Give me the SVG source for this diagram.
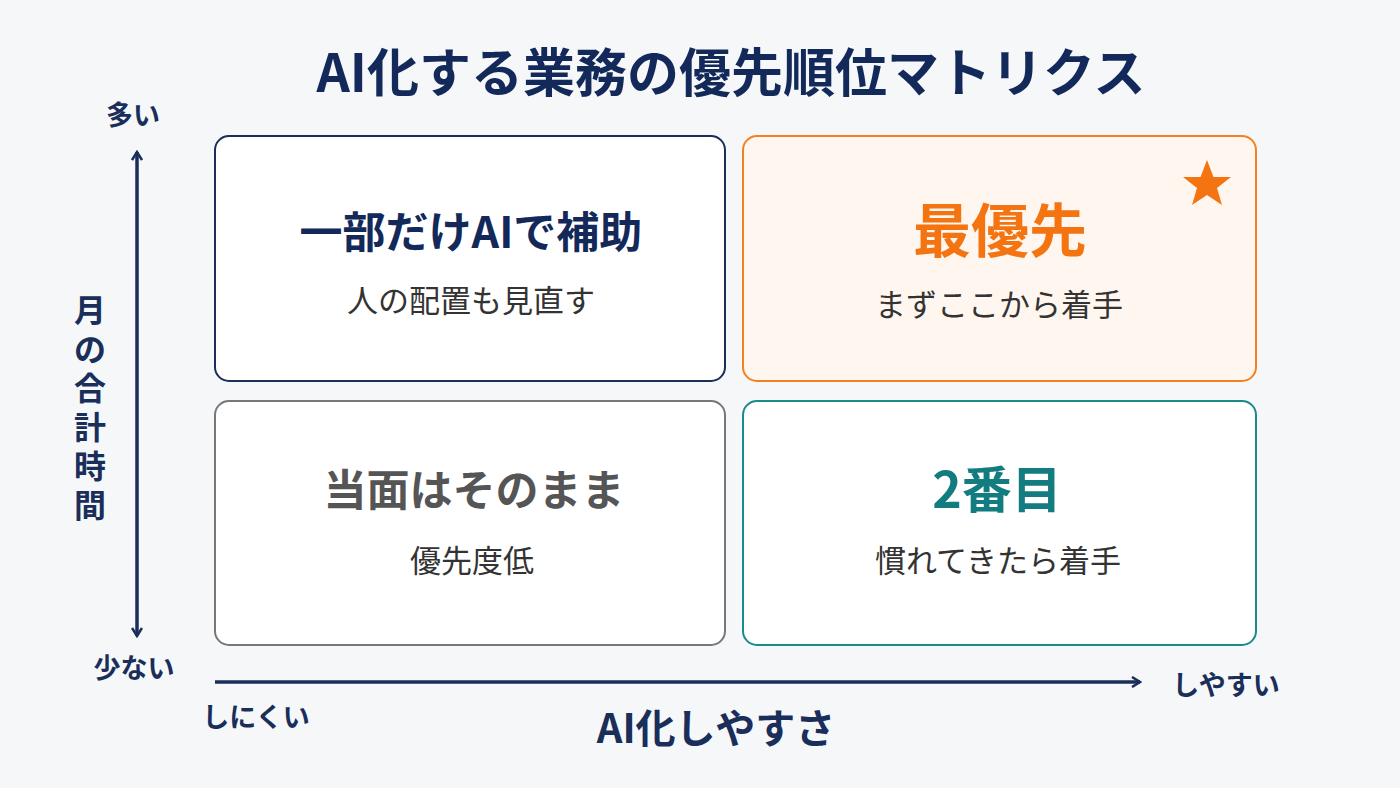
<svg xmlns="http://www.w3.org/2000/svg" width="1400" height="788" viewBox="0 0 1400 788">
<style>
text{font-family:"Noto Sans CJK JP","Noto Sans",sans-serif;text-anchor:middle}
.h{font-size:43px;font-weight:700}
.s{font-size:31px;fill:#333}
.ax{fill:#1a2e5a;font-weight:700}
.box{stroke-width:2}
</style>
<defs>
<marker id="a" viewBox="0 0 12 12" refX="10" refY="6" markerWidth="12" markerHeight="12" markerUnits="userSpaceOnUse" orient="auto-start-reverse"><path d="M2,1 L10,6 L2,11" fill="none" stroke="#1a2e5a" stroke-width="2.5"/></marker>
</defs>
<rect width="1400" height="788" fill="#f6f7f9"/>
<text x="731" y="92" font-size="52" font-weight="700" fill="#13295a">AI化する業務の優先順位マトリクス</text>
<g id="connectors" stroke="#1a2e5a" stroke-width="3.5" fill="none">
<line x1="137" y1="152" x2="137" y2="636" marker-start="url(#a)" marker-end="url(#a)"/>
<line x1="215" y1="682" x2="1140" y2="682" marker-end="url(#a)"/>
</g>
<g id="tl"><rect class="box" x="215" y="136" width="510" height="245" rx="14" fill="#fff" stroke="#1a2e5a"/>
<text class="h" x="471" y="248" fill="#13295a">一部だけAIで補助</text><text class="s" x="471" y="312">人の配置も見直す</text></g>
<g id="tr"><rect class="box" x="743" y="136" width="513" height="245" rx="14" fill="#fff7ef" stroke="#f5801f"/>
<polygon points="1207,160 1213.5,177 1231,177 1217,188 1222,205 1207,195 1192,205 1197,188 1183,177 1200.5,177" fill="#f57412"/>
<text class="h" x="1000" y="252" style="font-size:58px" fill="#f57412">最優先</text><text class="s" x="999" y="316">まずここから着手</text></g>
<g id="bl"><rect class="box" x="215" y="401" width="510" height="244" rx="14" fill="#fff" stroke="#777"/>
<text class="h" x="474" y="506" fill="#555">当面はそのまま</text><text class="s" x="472" y="572">優先度低</text></g>
<g id="br"><rect class="box" x="743" y="401" width="513" height="244" rx="14" fill="#fff" stroke="#1a8a8a"/>
<text class="h" x="997" y="508" style="font-size:50px" fill="#137c80">2番目</text><text class="s" x="998" y="572">慣れてきたら着手</text></g>
<g id="labels">
<text class="ax" x="133" y="125" font-size="27">多い</text>
<text class="ax" x="134" y="678" font-size="27">少ない</text>
<text class="ax" x="256" y="727" font-size="27">しにくい</text>
<text class="ax" x="1226" y="695" font-size="27">しやすい</text>
<text class="ax" x="716" y="743" font-size="40">AI化しやすさ</text>
<text class="ax" font-size="32"><tspan x="90" y="322">月</tspan><tspan x="90" y="361">の</tspan><tspan x="90" y="400">合</tspan><tspan x="90" y="439">計</tspan><tspan x="90" y="478">時</tspan><tspan x="90" y="517">間</tspan></text>
</g>
</svg>
